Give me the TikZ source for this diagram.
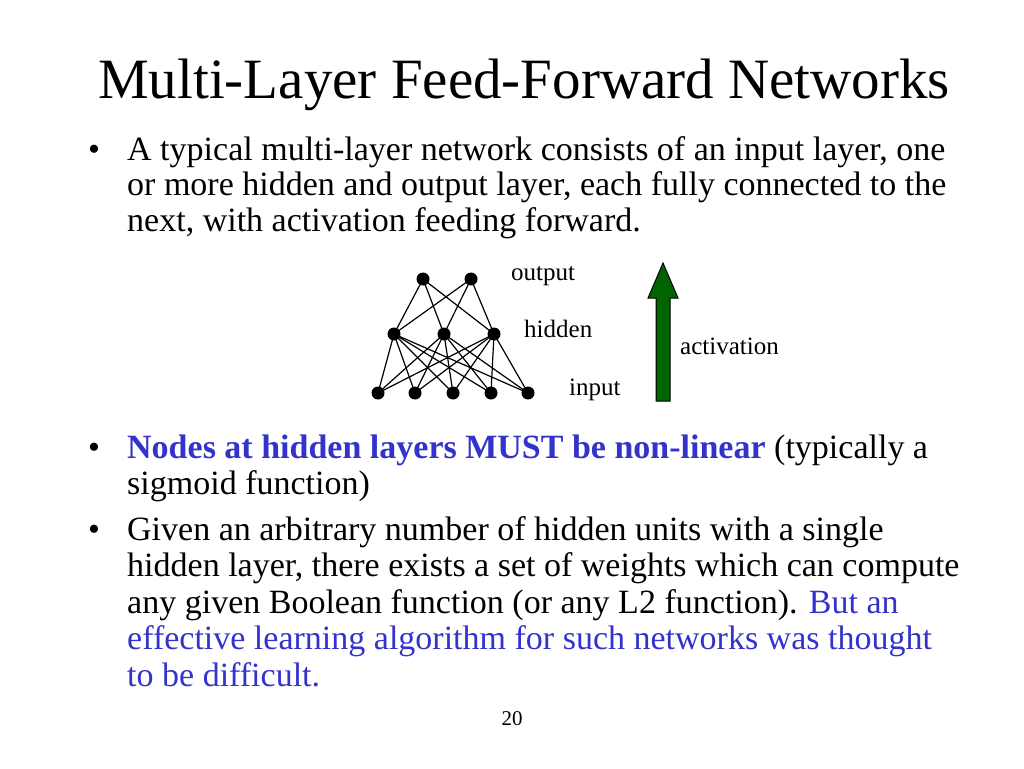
\documentclass[tikz,border=0pt]{standalone}
\usepackage{fontspec}
\setmainfont{Liberation Serif}
\definecolor{hblue}{RGB}{51,51,204}
\definecolor{agreen}{RGB}{0,100,0}
\begin{document}
\begin{tikzpicture}[x=1pt,y=-1pt,
  body/.style={anchor=base west,inner sep=0pt,font=\fontsize{34}{40}\selectfont},
  small/.style={anchor=base west,inner sep=0pt,font=\fontsize{25}{30}\selectfont},
  unit/.style={circle,fill=black,inner sep=0pt,minimum size=13pt},
  link/.style={line width=1.2pt}]
\useasboundingbox (0,0) rectangle (1024,768);
\node[anchor=base,inner sep=0pt,font=\fontsize{57}{64}\selectfont] (title) at (524,98) {Multi-Layer Feed-Forward Networks};
\node[body] (b1) at (88,160) {•};
\node[body] (l1) at (127,160) {A typical multi-layer network consists of an input layer, one};
\node[body] (l2) at (127,195) {or more hidden and output layer, each fully connected to the};
\node[body] (l3) at (127,231) {next, with activation feeding forward.};
\node[body] (b2) at (88,458) {•};
\node[body] (l4) at (127,458) {\textcolor{hblue}{\textbf{Nodes at hidden layers MUST be non-linear}} (typically a};
\node[body] (l5) at (127,494) {sigmoid function)};
\node[body] (b3) at (88,540) {•};
\node[body] (l6) at (127,540) {Given an arbitrary number of hidden units with a single};
\node[body] (l7) at (127,576) {hidden layer, there exists a set of weights which can compute};
\node[body] (l8) at (127,613) {any given Boolean function (or any L2 function). \textcolor{hblue}{But an}};
\node[body,text=hblue] (l9) at (127,649) {effective learning algorithm for such networks was thought};
\node[body,text=hblue] (l10) at (127,686) {to be difficult.};
\node[anchor=base,inner sep=0pt,font=\fontsize{21}{24}\selectfont] (pg) at (512,725) {20};
\node[small] (tout) at (511,280) {output};
\node[small] (thid) at (524,337) {hidden};
\node[small] (tin) at (569,395) {input};
\node[small] (tact) at (680,354) {activation};
\foreach \n/\x in {1/423,2/471} \node[unit] (o\n) at (\x,279) {};
\foreach \n/\x in {1/394,2/444,3/494} \node[unit] (h\n) at (\x,334) {};
\foreach \n/\x in {1/378,2/415,3/453,4/491,5/528} \node[unit] (i\n) at (\x,393) {};
\foreach \a in {1,2} \foreach \b in {1,2,3} \draw[link] (o\a.center) -- (h\b.center);
\foreach \a in {1,2,3} \foreach \b in {1,2,3,4,5} \draw[link] (h\a.center) -- (i\b.center);
\draw[fill=agreen,line width=1pt] (656,401) -- (656,298) -- (648,298) -- (663,263) -- (678,298) -- (670,298) -- (670,401) -- cycle;
\end{tikzpicture}
\end{document}
